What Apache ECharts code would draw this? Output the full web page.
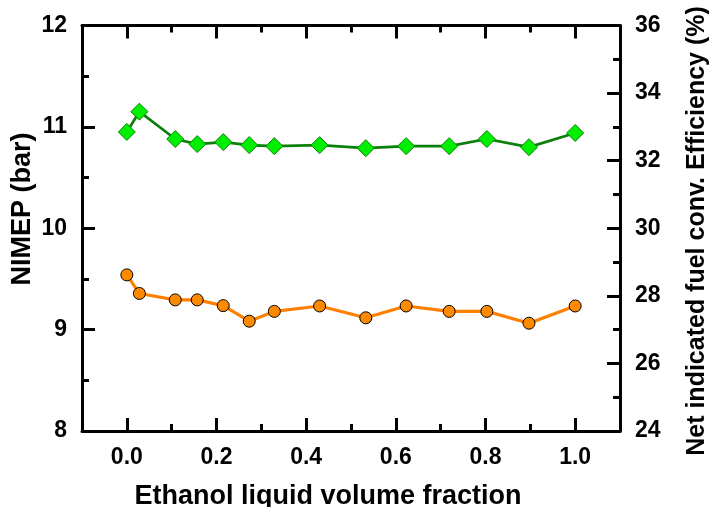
<!DOCTYPE html>
<html>
<head>
<meta charset="utf-8">
<script src="https://cdn.jsdelivr.net/npm/echarts@6/dist/echarts.min.js"></script>
<style>
  html, body { margin: 0; padding: 0; background: #fff; }
  #chart { width: 720px; height: 507px; }
</style>
</head>
<body>
<div id="chart"></div>
<script>
// Ethanol liquid volume fraction for each operating point
const ethanolFraction = [0, 0.028, 0.108, 0.157, 0.215, 0.273, 0.329, 0.43, 0.533, 0.623, 0.719, 0.803, 0.897, 1.0];
// Net IMEP (bar), left axis
const nimep = [10.95, 11.15, 10.88, 10.83, 10.85, 10.82, 10.81, 10.82, 10.79, 10.81, 10.81, 10.88, 10.80, 10.94];
// Net indicated fuel conversion efficiency (%), right axis
const efficiency = [28.62, 28.07, 27.88, 27.88, 27.71, 27.25, 27.54, 27.70, 27.35, 27.70, 27.54, 27.54, 27.19, 27.70];
// Labelled / major tick positions on the fraction axis
const xMajorTicks = [0, 0.2, 0.4, 0.6, 0.8, 1.0];

const FONT = "'Liberation Sans', Arial, sans-serif";
const chart = echarts.init(document.getElementById('chart'));

const axisLine = { show: true, onZero: false, lineStyle: { color: '#000', width: 3 } };
const grid = { left: 82, right: 100, top: 25.5, bottom: 76 };

function fracAxis(position, major, showLabels) {
  return {
    type: 'value', position: position, min: -0.1, max: 1.1, interval: 0.1,
    axisLine: major ? { show: false } : axisLine,
    splitLine: { show: false },
    axisTick: major
      ? { show: true, inside: true, length: 13, customValues: xMajorTicks, lineStyle: { color: '#000', width: 3 } }
      : { show: true, inside: true, length: 7, lineStyle: { color: '#000', width: 3 } },
    axisLabel: showLabels
      ? { show: true, customValues: xMajorTicks, margin: 15, color: '#000', fontFamily: FONT, fontWeight: 'bold', fontSize: 23,
          formatter: v => Number(v).toFixed(1) }
      : { show: false }
  };
}

const option = {
  animation: false,
  backgroundColor: '#fff',
  grid: grid,
  xAxis: [
    fracAxis('bottom', false, true),
    fracAxis('bottom', true, false),
    fracAxis('top', false, false),
    fracAxis('top', true, false)
  ],
  yAxis: [
    {
      type: 'value', position: 'left', min: 8, max: 12, interval: 1,
      axisLine: axisLine, splitLine: { show: false },
      axisTick: { show: true, inside: true, length: 13, lineStyle: { color: '#000', width: 3 } },
      minorTick: { show: true, splitNumber: 2, length: 7, lineStyle: { color: '#000', width: 3 } },
      axisLabel: { margin: 15, color: '#000', fontFamily: FONT, fontWeight: 'bold', fontSize: 23 }
    },
    {
      type: 'value', position: 'right', min: 24, max: 36, interval: 2,
      axisLine: axisLine, splitLine: { show: false },
      axisTick: { show: true, inside: true, length: 13, lineStyle: { color: '#000', width: 3 } },
      minorTick: { show: true, splitNumber: 2, length: 7, lineStyle: { color: '#000', width: 3 } },
      axisLabel: { margin: 15, color: '#000', fontFamily: FONT, fontWeight: 'bold', fontSize: 23 }
    }
  ],
  series: [
    {
      name: 'NIMEP', type: 'line', xAxisIndex: 0, yAxisIndex: 0,
      data: ethanolFraction.map((x, i) => [x, nimep[i]]),
      symbol: 'diamond', symbolSize: 17,
      lineStyle: { color: '#0a800a', width: 2.7 },
      itemStyle: { color: '#00ee00', borderColor: '#0a800a', borderWidth: 1 },
      z: 3
    },
    {
      name: 'Efficiency', type: 'line', xAxisIndex: 0, yAxisIndex: 1,
      data: ethanolFraction.map((x, i) => [x, efficiency[i]]),
      symbol: 'circle', symbolSize: 12,
      lineStyle: { color: '#ff8000', width: 3.2 },
      itemStyle: { color: '#ff8a00', borderColor: '#000', borderWidth: 1 },
      z: 3
    }
  ],
  graphic: [
    {
      type: 'text', x: 328, y: 497,
      style: { text: 'Ethanol liquid volume fraction', fill: '#000', font: 'bold 27px ' + FONT, align: 'center', verticalAlign: 'middle' }
    },
    {
      type: 'text', x: 23, y: 209, rotation: Math.PI / 2,
      style: { text: 'NIMEP (bar)', fill: '#000', font: 'bold 27px ' + FONT, align: 'center', verticalAlign: 'middle' }
    },
    {
      type: 'text', x: 697, y: 231, rotation: Math.PI / 2,
      style: { text: 'Net indicated fuel conv. Efficiency (%)', fill: '#000', font: 'bold 25px ' + FONT, align: 'center', verticalAlign: 'middle' }
    }
  ]
};

chart.setOption(option);
</script>
</body>
</html>
